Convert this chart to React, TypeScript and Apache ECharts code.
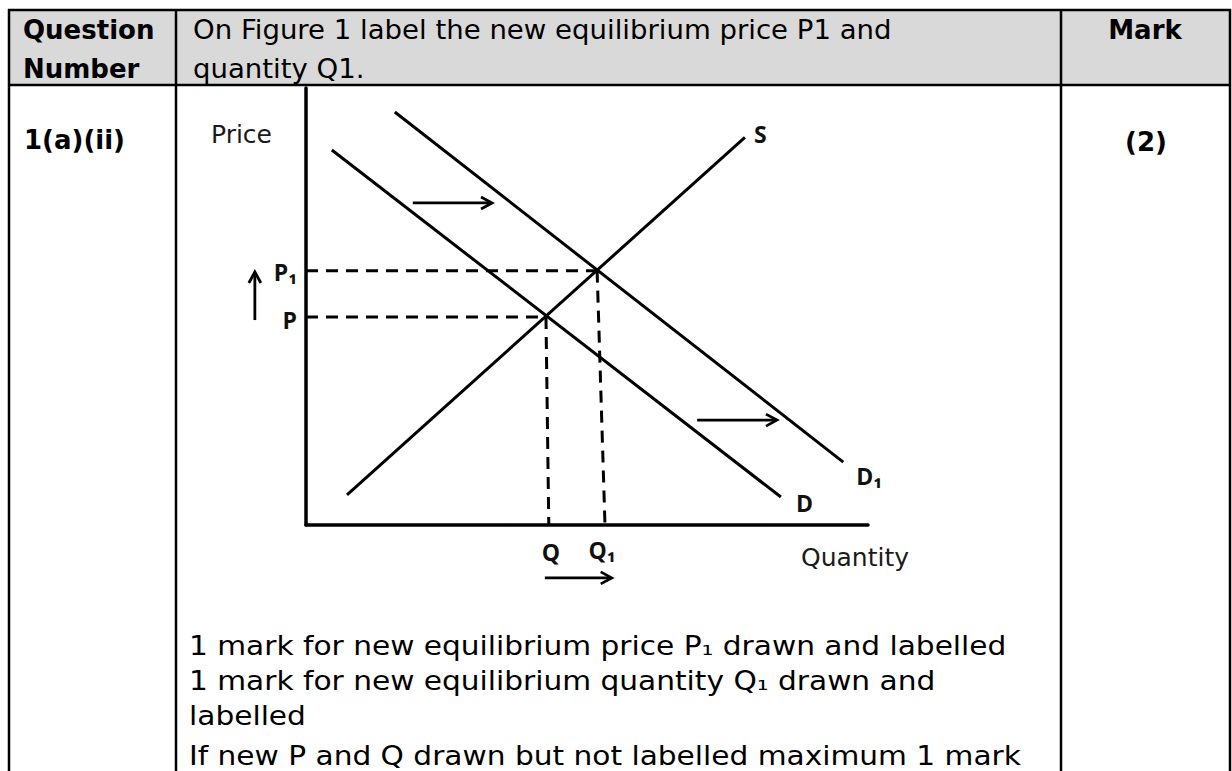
import React, { useEffect, useRef } from "react";
import * as echarts from "echarts";

// ---- table texts ----
const headerCells = ["Question", "Number"];
const headerQuestion = ["On Figure 1 label the new equilibrium price P1 and", "quantity Q1."];
const headerMark = "Mark";
const questionId = "1(a)(ii)";
const markValue = "(2)";
const answerLines = [
  "1 mark for new equilibrium price P\u2081 drawn and labelled",
  "1 mark for new equilibrium quantity Q\u2081 drawn and",
  "labelled",
  "If new P and Q drawn but not labelled maximum 1 mark",
];

// ---- diagram data (Quantity 0-100, Price 0-100) ----
const demandD = [[4.6, 85.8], [84.5, 6.4]];
const demandD1 = [[15.8, 94.5], [95.6, 14.4]];
const supplyS = [[7.3, 6.9], [78.1, 88.7]];
const equilibrium0 = [42.7, 47.6]; // P, Q
const equilibrium1 = [51.8, 58.2]; // P1, Q1
const qFoot = [43.2, 0];
const q1Foot = [53.2, 0];
// shift arrows: [x1, y1, x2, y2]
const shiftArrows = [
  [19.0, 73.7, 33.1, 73.7],
  [69.6, 24.0, 83.8, 24.0],
  [42.5, -12.1, 54.4, -12.1],
  [-9.1, 46.9, -9.1, 57.9],
];
const labelTexts = ["Price", "Quantity", "P\u2081", "P", "Q", "Q\u2081", "S", "D", "D\u2081"];
const labelAnchors = [
  [0, 100],
  [100, 0],
  [0, equilibrium1[1]],
  [0, equilibrium0[1]],
  qFoot,
  q1Foot,
  supplyS[1],
  demandD[1],
  demandD1[1],
];

// layout of labels (pixel offsets, alignment, font)
const LBL_BOLD = 'bold 23px "Open Sans", "DejaVu Sans"';
const labelLayout = [
  { dx: -95, dy: 46, align: "left", font: '25px "DejaVu Sans"', fill: "#1a1a1a" },
  { dx: -13, dy: 32, align: "center", font: '25px "DejaVu Sans"', fill: "#1a1a1a" },
  { dx: -9, dy: 1, align: "right", font: LBL_BOLD, fill: "#111" },
  { dx: -9, dy: 3, align: "right", font: LBL_BOLD, fill: "#111" },
  { dx: 2, dy: 27, align: "center", font: LBL_BOLD, fill: "#111" },
  { dx: -3, dy: 25, align: "center", font: LBL_BOLD, fill: "#111" },
  { dx: 9, dy: -3, align: "left", font: LBL_BOLD, fill: "#111" },
  { dx: 15, dy: 6, align: "left", font: LBL_BOLD, fill: "#111" },
  { dx: 13, dy: 14, align: "left", font: LBL_BOLD, fill: "#111" },
];

const BODY_FONT = '26px "DejaVu Sans"';
const BOLD_FONT = 'bold 26px "DejaVu Sans"';

function txt(text: string, x: number, y: number, font: string, align = "left", scaleX = 1) {
  return {
    type: "text",
    x,
    y,
    scaleX,
    z: 10,
    style: {
      text,
      font,
      fill: "#000",
      align,
      textAlign: align,
      verticalAlign: "middle",
      textVerticalAlign: "middle",
    },
  };
}

function hline(x1: number, x2: number, y: number) {
  return { type: "line", z: 5, shape: { x1, y1: y, x2, y2: y }, style: { stroke: "#000", lineWidth: 2.5 } };
}
function vline(x: number, y1: number, y2: number) {
  return { type: "line", z: 5, shape: { x1: x, y1, x2: x, y2 }, style: { stroke: "#000", lineWidth: 2.5 } };
}

export default function App() {
  const ref = useRef<HTMLDivElement>(null);

  useEffect(() => {
    if (!ref.current) return;
    const chart = echarts.init(ref.current, undefined, { renderer: "svg" });

    const solid = { color: "#000", width: 3 };
    const dashed = { color: "#000", width: 3, type: [12, 8] as any };

    const mkLine = (name: string, data: number[][], lineStyle: any) => ({
      name,
      type: "line",
      data,
      showSymbol: false,
      symbol: "none",
      silent: true,
      lineStyle,
      z: 3,
    });

    const axisCommon = {
      type: "value",
      min: 0,
      max: 100,
      axisLine: { show: true, onZero: false, lineStyle: { color: "#000", width: 3.5 } },
      axisTick: { show: false },
      axisLabel: { show: false },
      splitLine: { show: false },
    };

    const option: any = {
      animation: false,
      backgroundColor: "#fff",
      grid: { left: 306, top: 88, width: 562, height: 437 },
      xAxis: { ...axisCommon },
      yAxis: { ...axisCommon },
      graphic: [
        {
          type: "rect",
          z: 1,
          shape: { x: 9, y: 10, width: 1221, height: 75 },
          style: { fill: "#d9d9d9" },
        },
        hline(8, 1231, 10),
        hline(8, 1231, 85),
        vline(9, 9, 771),
        vline(176, 9, 771),
        vline(1061, 9, 771),
        vline(1230, 9, 771),
        txt(headerCells[0], 23, 30, BOLD_FONT),
        txt(headerCells[1], 23, 69, BOLD_FONT),
        txt(headerQuestion[0], 193, 30, BODY_FONT, "left", 1.06),
        txt(headerQuestion[1], 193, 69, BODY_FONT, "left", 1.06),
        txt(headerMark, 1145, 30, BOLD_FONT, "center"),
        txt(questionId, 24, 140, BOLD_FONT),
        txt(markValue, 1146, 142, BOLD_FONT, "center"),
        txt(answerLines[0], 189, 646, BODY_FONT, "left", 1.14),
        txt(answerLines[1], 189, 681, BODY_FONT, "left", 1.14),
        txt(answerLines[2], 189, 716, BODY_FONT, "left", 1.14),
        txt(answerLines[3], 189, 756, BODY_FONT, "left", 1.14),
      ],
      series: [
        mkLine("D", demandD, solid),
        mkLine("D1", demandD1, solid),
        mkLine("S", supplyS, solid),
        mkLine("P", [[0, equilibrium0[1]], equilibrium0], dashed),
        mkLine("P1", [[0, equilibrium1[1]], equilibrium1], dashed),
        mkLine("Q", [equilibrium0, qFoot], dashed),
        mkLine("Q1", [equilibrium1, q1Foot], dashed),
        {
          name: "arrows",
          type: "custom",
          clip: false,
          silent: true,
          z: 4,
          data: shiftArrows,
          encode: { x: [0, 2], y: [1, 3] },
          renderItem: (params: any, api: any) => {
            const p1 = api.coord([api.value(0), api.value(1)]);
            const p2 = api.coord([api.value(2), api.value(3)]);
            const ang = Math.atan2(p2[1] - p1[1], p2[0] - p1[0]);
            const c = Math.cos(ang);
            const s = Math.sin(ang);
            const L = 11;
            const W = 6;
            const bx = p2[0] - L * c;
            const by = p2[1] - L * s;
            return {
              type: "group",
              children: [
                {
                  type: "line",
                  shape: { x1: p1[0], y1: p1[1], x2: p2[0] - 1 * c, y2: p2[1] - 1 * s },
                  style: { stroke: "#000", lineWidth: 2.8 },
                },
                {
                  type: "polyline",
                  shape: {
                    points: [
                      [bx + W * s, by - W * c],
                      [p2[0], p2[1]],
                      [bx - W * s, by + W * c],
                    ],
                  },
                  style: { stroke: "#000", lineWidth: 2.8, fill: null },
                },
              ],
            };
          },
        },
        {
          name: "labels",
          type: "custom",
          clip: false,
          silent: true,
          z: 5,
          data: labelAnchors,
          encode: { x: 0, y: 1 },
          renderItem: (params: any, api: any) => {
            const i = params.dataIndex;
            const p = api.coord([api.value(0), api.value(1)]);
            const lay = labelLayout[i];
            return {
              type: "text",
              x: p[0] + lay.dx,
              y: p[1] + lay.dy,
              style: {
                text: labelTexts[i],
                font: lay.font,
                fill: lay.fill,
                align: lay.align,
                textAlign: lay.align,
                verticalAlign: "middle",
                textVerticalAlign: "middle",
              },
            };
          },
        },
      ],
    };

    chart.setOption(option);
    return () => chart.dispose();
  }, []);

  return (
    <div
      ref={ref}
      style={{ position: "fixed", left: 0, top: 0, width: 1232, height: 771, background: "#fff" }}
    />
  );
}
